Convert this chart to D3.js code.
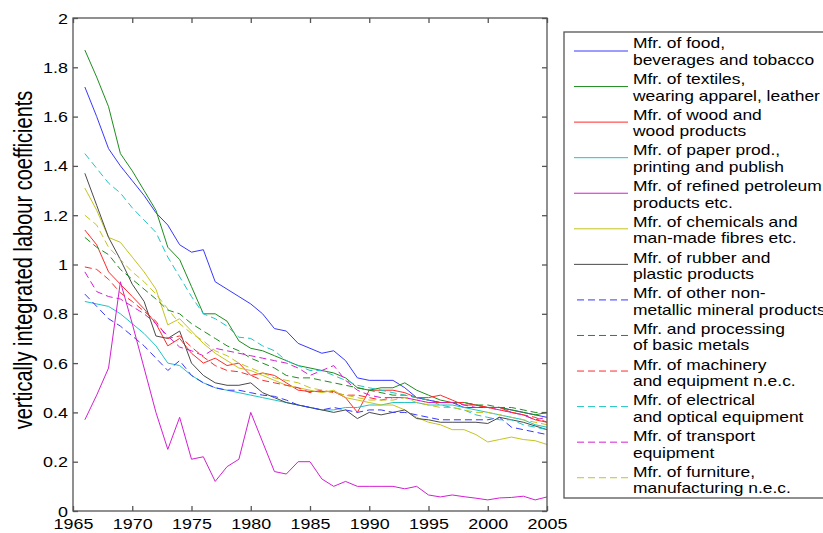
<!DOCTYPE html>
<html>
<head>
<meta charset="utf-8">
<script src="https://cdn.jsdelivr.net/npm/d3@7"></script>
<style>
  html, body { margin: 0; padding: 0; background: #fff; }
  svg { display: block; font-family: "Liberation Sans", Arial, Helvetica, sans-serif; }
</style>
</head>
<body>
<svg id="chart" width="823" height="533"></svg>
<script>
// ---------- data ----------
const years = [1966,1967,1968,1969,1970,1971,1972,1973,1974,1975,1976,1977,1978,1979,1980,
  1981,1982,1983,1984,1985,1986,1987,1988,1989,1990,1991,1992,1993,1994,1995,1996,1997,1998,
  1999,2000,2001,2002,2003,2004,2005];

const food = [1.72,1.60,1.47,1.40,1.34,1.28,1.21,1.16,1.08,1.05,1.06,0.93,0.90,0.87,0.84,0.80,0.74,0.73,0.68,0.66,0.64,0.65,0.61,0.54,0.53,0.53,0.53,0.50,0.46,0.45,0.44,0.44,0.42,0.42,0.42,0.42,0.41,0.40,0.39,0.38];
const textiles = [1.87,1.76,1.64,1.45,1.38,1.30,1.22,1.07,1.02,0.91,0.80,0.80,0.77,0.69,0.66,0.65,0.63,0.61,0.59,0.58,0.57,0.56,0.54,0.50,0.49,0.50,0.50,0.52,0.49,0.47,0.45,0.44,0.44,0.43,0.42,0.42,0.41,0.40,0.39,0.40];
const wood = [1.14,1.08,0.97,0.92,0.87,0.82,0.76,0.67,0.70,0.64,0.60,0.62,0.59,0.60,0.55,0.56,0.55,0.52,0.49,0.485,0.485,0.485,0.46,0.40,0.49,0.49,0.49,0.48,0.46,0.46,0.47,0.45,0.43,0.43,0.42,0.42,0.40,0.39,0.37,0.36];
const paper = [0.85,0.84,0.83,0.80,0.76,0.72,0.67,0.60,0.59,0.55,0.52,0.50,0.49,0.48,0.47,0.46,0.45,0.44,0.43,0.42,0.41,0.41,0.42,0.42,0.43,0.43,0.44,0.44,0.44,0.43,0.43,0.43,0.42,0.41,0.40,0.39,0.38,0.37,0.35,0.34];
const petroleum = [0.37,0.47,0.58,0.93,0.76,0.58,0.40,0.25,0.38,0.21,0.22,0.12,0.18,0.21,0.40,0.28,0.16,0.15,0.20,0.20,0.13,0.10,0.12,0.10,0.10,0.10,0.10,0.09,0.10,0.065,0.057,0.065,0.058,0.052,0.045,0.053,0.055,0.06,0.045,0.057];
const chemicals = [1.31,1.22,1.11,1.09,1.03,0.97,0.90,0.755,0.78,0.73,0.68,0.64,0.61,0.58,0.57,0.55,0.53,0.51,0.50,0.49,0.48,0.49,0.46,0.45,0.44,0.43,0.43,0.41,0.38,0.36,0.35,0.33,0.33,0.31,0.28,0.29,0.30,0.29,0.285,0.27];
const rubber = [1.37,1.24,1.11,1.02,0.92,0.85,0.71,0.70,0.73,0.60,0.55,0.52,0.51,0.51,0.52,0.48,0.46,0.44,0.43,0.42,0.41,0.40,0.41,0.375,0.40,0.39,0.40,0.41,0.375,0.37,0.36,0.36,0.36,0.36,0.355,0.38,0.37,0.36,0.345,0.33];
const nonmetallic = [0.88,0.83,0.78,0.75,0.71,0.67,0.62,0.57,0.61,0.55,0.52,0.50,0.49,0.49,0.48,0.47,0.465,0.45,0.43,0.42,0.41,0.42,0.41,0.40,0.41,0.41,0.40,0.40,0.39,0.38,0.37,0.37,0.37,0.37,0.37,0.38,0.34,0.33,0.32,0.31];
const metals = [1.11,1.07,1.04,0.98,0.94,0.90,0.86,0.815,0.80,0.76,0.73,0.70,0.67,0.65,0.62,0.60,0.58,0.55,0.54,0.54,0.53,0.52,0.51,0.50,0.49,0.48,0.47,0.47,0.46,0.45,0.44,0.44,0.44,0.43,0.43,0.42,0.42,0.41,0.40,0.40];
const machinery = [0.99,0.98,0.94,0.885,0.85,0.81,0.77,0.70,0.71,0.665,0.625,0.59,0.57,0.565,0.55,0.53,0.52,0.51,0.50,0.48,0.49,0.48,0.47,0.47,0.46,0.45,0.46,0.46,0.45,0.44,0.44,0.44,0.44,0.43,0.42,0.41,0.40,0.39,0.38,0.36];
const electrical = [1.45,1.39,1.33,1.29,1.23,1.18,1.13,1.03,0.95,0.87,0.80,0.78,0.75,0.705,0.70,0.67,0.65,0.61,0.59,0.57,0.57,0.55,0.53,0.51,0.50,0.49,0.48,0.47,0.46,0.45,0.43,0.42,0.41,0.39,0.38,0.37,0.37,0.35,0.34,0.33];
const transport = [0.97,0.89,0.87,0.86,0.83,0.80,0.76,0.71,0.665,0.65,0.63,0.66,0.65,0.64,0.63,0.62,0.61,0.60,0.58,0.55,0.57,0.59,0.53,0.49,0.47,0.46,0.46,0.46,0.45,0.44,0.44,0.44,0.43,0.42,0.42,0.41,0.40,0.39,0.37,0.38];
const furniture = [1.20,1.16,1.07,1.02,0.97,0.93,0.88,0.82,0.76,0.72,0.69,0.65,0.63,0.60,0.58,0.56,0.54,0.53,0.52,0.50,0.49,0.48,0.47,0.46,0.45,0.45,0.45,0.46,0.44,0.43,0.42,0.42,0.41,0.40,0.40,0.39,0.38,0.37,0.36,0.35];

const seriesValues = [food, textiles, wood, paper, petroleum, chemicals, rubber,
  nonmetallic, metals, machinery, electrical, transport, furniture];
const seriesLabels = [
  ["Mfr. of food,", "beverages and tobacco"],
  ["Mfr. of textiles,", "wearing apparel, leather"],
  ["Mfr. of wood and", "wood products"],
  ["Mfr. of paper prod.,", "printing and publish"],
  ["Mfr. of refined petroleum", "products etc."],
  ["Mfr. of chemicals and", "man-made fibres etc."],
  ["Mfr. of rubber and", "plastic products"],
  ["Mfr. of other non-", "metallic mineral products"],
  ["Mfr. and processing", "of basic metals"],
  ["Mfr. of machinery", "and equipment n.e.c."],
  ["Mfr. of electrical", "and optical equipment"],
  ["Mfr. of transport", "equipment"],
  ["Mfr. of furniture,", "manufacturing n.e.c."]
];
const seriesColors = ["#3838ff","#1f8c1f","#ff2a2a","#1fc4c4","#d21fd2","#c4c41f","#4a4a4a",
  "#3838ff","#1f8c1f","#ff2a2a","#1fc4c4","#d21fd2","#c4c41f"];
const seriesDashed = [false,false,false,false,false,false,false,true,true,true,true,true,true];

const xTicks = [1965,1970,1975,1980,1985,1990,1995,2000,2005];
const yTicks = [0,0.2,0.4,0.6,0.8,1,1.2,1.4,1.6,1.8,2];
const yTitle = "vertically integrated labour coefficients";

// ---------- layout ----------
const SX = 1.28;   // horizontal text stretch seen in the reference
const SXL = 1.245; // legend text stretch
const L = 73, R = 547, T = 18, B = 511;
const svg = d3.select("#chart");
const x = d3.scaleLinear().domain([1965, 2005]).range([L, R]);
const y = d3.scaleLinear().domain([0, 2]).range([B, T]);
const axisColor = "#555";

// series lines
const line = d3.line().x((d, i) => x(years[i])).y(d => y(d));
const gLines = svg.append("g");
seriesValues.forEach((vals, k) => {
  gLines.append("path")
    .datum(vals)
    .attr("d", line)
    .attr("fill", "none")
    .attr("stroke", seriesColors[k])
    .attr("stroke-width", 1)
    .attr("stroke-dasharray", seriesDashed[k] ? "7,4" : null);
});

// axes (ticks inside, box)
function styleAxis(g) {
  g.select(".domain").remove();
  g.selectAll(".tick line").attr("stroke", axisColor).attr("stroke-width", 1.3);
}
const fmtY = v => String(+v.toFixed(1));

const gxB = svg.append("g").attr("transform", `translate(0,${B})`)
  .call(d3.axisBottom(x).tickValues(xTicks).tickSize(-5).tickFormat(d3.format("d")));
styleAxis(gxB);
gxB.selectAll(".tick text")
  .attr("y", null).attr("dy", null)
  .attr("transform", `translate(0,18) scale(${SX},1)`)
  .attr("font-size", 14).attr("fill", "#000").attr("font-family", "Liberation Sans, Arial, sans-serif");

const gxT = svg.append("g").attr("transform", `translate(0,${T})`)
  .call(d3.axisTop(x).tickValues(xTicks).tickSize(-5).tickFormat(""));
styleAxis(gxT);

const gyL = svg.append("g").attr("transform", `translate(${L},0)`)
  .call(d3.axisLeft(y).tickValues(yTicks).tickSize(-5).tickFormat(fmtY));
styleAxis(gyL);
gyL.selectAll(".tick text")
  .attr("x", null).attr("dy", null)
  .attr("transform", `translate(-5,5) scale(${SX},1)`)
  .attr("font-size", 14).attr("fill", "#000").attr("font-family", "Liberation Sans, Arial, sans-serif");

const gyR = svg.append("g").attr("transform", `translate(${R},0)`)
  .call(d3.axisRight(y).tickValues(yTicks).tickSize(-5).tickFormat(""));
styleAxis(gyR);

svg.append("rect")
  .attr("x", L).attr("y", T).attr("width", R - L).attr("height", B - T)
  .attr("fill", "none").attr("stroke", axisColor).attr("stroke-width", 1.3);

// y title
svg.append("text")
  .attr("transform", `translate(32,260) scale(${SX},1) rotate(-90)`)
  .attr("text-anchor", "middle")
  .attr("font-size", 20)
  .attr("fill", "#000")
  .text(yTitle);

// legend
const lg = svg.append("g");
lg.append("rect")
  .attr("x", 564).attr("y", 32).attr("width", 300).attr("height", 466)
  .attr("fill", "#fff").attr("stroke", axisColor).attr("stroke-width", 1.3);
seriesLabels.forEach((lab, k) => {
  const ys = 51 + k * 35.56;
  const yb = 48.3 + k * 35.7;
  lg.append("line")
    .attr("x1", seriesDashed[k] ? 577 : 574).attr("x2", 628)
    .attr("y1", ys).attr("y2", ys)
    .attr("stroke", seriesColors[k]).attr("stroke-width", 1)
    .attr("stroke-dasharray", seriesDashed[k] ? "7,4" : null);
  lab.forEach((t, j) => {
    lg.append("text")
      .attr("transform", `translate(633,${yb + j * 16.5}) scale(${SXL},1)`)
      .attr("font-size", 14)
      .attr("fill", "#000")
      .text(t);
  });
});
</script>
</body>
</html>
